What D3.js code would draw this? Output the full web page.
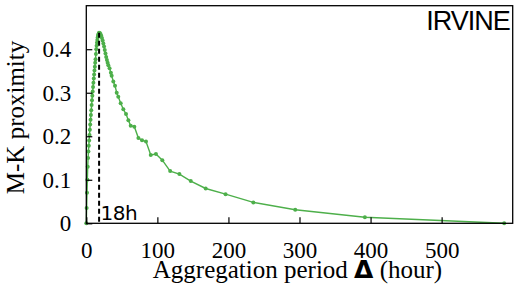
<!DOCTYPE html>
<html>
<head>
<meta charset="utf-8">
<script src="https://cdn.jsdelivr.net/npm/d3@7"></script>
<style>
  body { margin: 0; background: #fff; }
  svg { display: block; }
</style>
</head>
<body>
<div id="chart"></div>
<script>
// aggregation period (hours) and M-K proximity
var hours = [0, 0.5, 1, 1.5, 2, 2.5, 3, 3.5, 4, 4.5, 5, 5.5, 6, 6.5, 7, 7.5, 8, 8.5, 9, 9.5,
  10, 10.5, 11, 11.5, 12, 12.5, 13, 13.5, 14, 14.5, 15, 15.5, 16, 16.5, 17, 17.5, 18,
  19, 20, 21, 22, 23, 24, 25, 26, 27, 28, 29, 30, 31,
  32.7, 34.6, 35.7, 38, 40.4, 42.8, 45, 48.4, 52.1, 55.9, 59.2, 62.5, 67.6,
  73.3, 78.4, 84, 90.7, 98, 107, 118, 131, 147, 168, 196, 235, 294, 392, 588];
var proximity = [0, 0.035, 0.07, 0.10, 0.13, 0.15, 0.165, 0.178, 0.19, 0.203, 0.215, 0.227, 0.238, 0.249, 0.26, 0.272, 0.283, 0.293, 0.303, 0.313,
  0.323, 0.333, 0.342, 0.351, 0.36, 0.369, 0.377, 0.389, 0.40, 0.408, 0.415, 0.421, 0.427, 0.431, 0.434, 0.436, 0.438,
  0.437, 0.435, 0.431, 0.426, 0.42, 0.413, 0.406, 0.398, 0.39, 0.382, 0.375, 0.369, 0.363,
  0.356, 0.346, 0.339, 0.326, 0.316, 0.300, 0.291, 0.276, 0.262, 0.251, 0.237, 0.224, 0.222,
  0.196, 0.191, 0.188, 0.157, 0.159, 0.145, 0.120, 0.113, 0.097, 0.080, 0.067, 0.048, 0.031, 0.014, 0.0];
var xTicks = [0, 100, 200, 300, 400, 500];
var yTicks = [0, 0.1, 0.2, 0.3, 0.4];
var peakHour = 18;
var peakLabel = "18h";
var cityName = "IRVINE";

var margin = {top: 5.7, right: 3.3, bottom: 64.7, left: 86.3},
    width = 516 - margin.left - margin.right,
    height = 288 - margin.top - margin.bottom;

var svg = d3.select("#chart")
  .append("svg")
    .attr("width", 516)
    .attr("height", 288)
  .append("g")
    .attr("transform", "translate(" + margin.left + "," + margin.top + ")");

var data = hours.map(function(h, i) { return {h: h, p: proximity[i]}; });

var x = d3.scaleLinear().domain([0, 600]).range([0, width]);
var y = d3.scaleLinear().domain([0, 0.5]).range([height, 0]);

var serif = "'Liberation Serif', 'Times New Roman', serif";
var sans = "'DejaVu Sans', 'Liberation Sans', sans-serif";

// series first, axes and frame on top
var line = d3.line().x(function(d) { return x(d.h); }).y(function(d) { return y(d.p); });
svg.append("path")
  .datum(data)
  .attr("fill", "none")
  .attr("stroke", "#4daf4a")
  .attr("stroke-width", 1.4)
  .attr("d", line);

svg.append("g")
  .selectAll("circle")
  .data(data)
  .enter().append("circle")
    .attr("cx", function(d) { return x(d.h); })
    .attr("cy", function(d) { return y(d.p); })
    .attr("r", 2)
    .attr("fill", "#4daf4a");

// dashed marker at the peak
var peak = data.find(function(d) { return d.h === peakHour; });
svg.append("line")
  .attr("x1", x(peakHour)).attr("x2", x(peakHour))
  .attr("y1", y(peak.p)).attr("y2", height)
  .attr("stroke", "#000").attr("stroke-width", 2)
  .attr("stroke-dasharray", "5,3");

// axes, ticks pointing inward
var xAxis = svg.append("g")
  .attr("transform", "translate(0," + height + ")")
  .call(d3.axisBottom(x).tickValues(xTicks).tickSize(-6).tickSizeOuter(0).tickPadding(18.5).tickFormat(d3.format("d")));
xAxis.selectAll("text").style("font-family", "'Liberation Serif'").style("font-size", "23px").attr("fill", "#000");
xAxis.select(".domain").remove();

var yAxis = svg.append("g")
  .call(d3.axisLeft(y).tickValues(yTicks).tickSize(-6).tickSizeOuter(0).tickPadding(15)
    .tickFormat(function(d) { return d === 0 ? "0" : d3.format(".1f")(d); }));
yAxis.selectAll("text").style("font-family", "'Liberation Serif'").style("font-size", "23px").attr("fill", "#000");
yAxis.select(".domain").remove();

svg.selectAll(".tick line").attr("stroke", "#000").attr("stroke-width", 1.2);

// frame
svg.append("rect")
  .attr("x", 0).attr("y", 0)
  .attr("width", width).attr("height", height)
  .attr("fill", "none").attr("stroke", "#000").attr("stroke-width", 1.3);

// labels
svg.append("text")
  .attr("x", x(peakHour) + 1.5)
  .attr("y", height - 3)
  .style("font-family", sans)
  .style("font-size", "20px")
  .style("letter-spacing", "-0.5px")
  .text(peakLabel);

svg.append("text")
  .attr("x", width - 3)
  .attr("y", 24)
  .attr("text-anchor", "end")
  .style("font-family", "'Liberation Sans', sans-serif")
  .style("font-size", "27px")
  .style("letter-spacing", "-1px")
  .text(cityName);

svg.append("text")
  .attr("transform", "rotate(-90)")
  .attr("x", -(height / 2) - 3)
  .attr("y", 24 - margin.left)
  .attr("text-anchor", "middle")
  .style("font-family", serif)
  .style("font-size", "25px")
  .text("M-K proximity");

var xl = svg.append("text")
  .attr("x", 297.5 - margin.left)
  .attr("y", 278 - margin.top)
  .attr("text-anchor", "middle")
  .style("font-family", serif)
  .style("font-size", "25px");
xl.append("tspan").text("Aggregation period ");
xl.append("tspan").style("font-family", sans).style("font-weight", "bold").text("Δ");
xl.append("tspan").text(" (hour)");
</script>
</body>
</html>
